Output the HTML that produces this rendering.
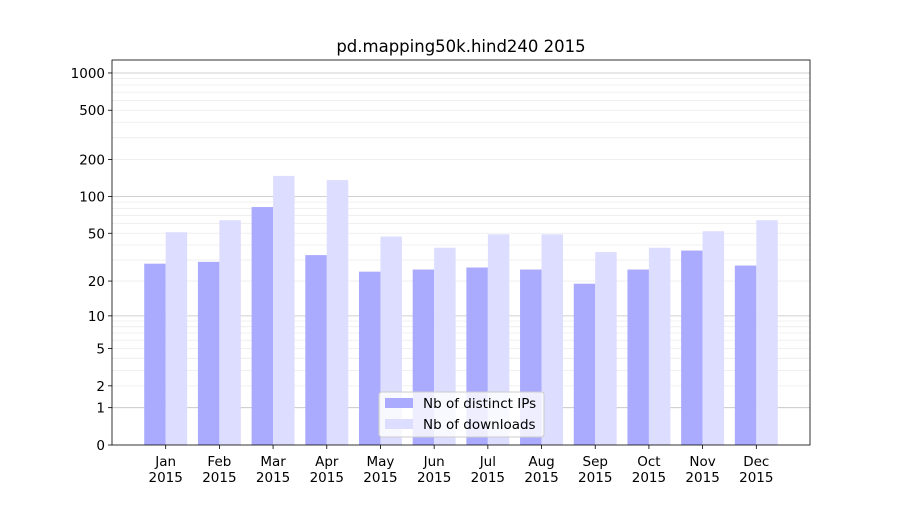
<!DOCTYPE html>
<html><head><meta charset="utf-8"><style>
body{margin:0;background:#fff;font-family:"Liberation Sans","DejaVu Sans",sans-serif;}
svg text{font-family:"DejaVu Sans","Liberation Sans",sans-serif;}
</style></head><body>
<svg id="chart" width="900" height="500" xmlns="http://www.w3.org/2000/svg">
<rect width="900" height="500" fill="#fff"/>
<g id="grid"></g><g id="bars"></g><g id="axes"></g>
</svg>
<script>
const months = ["Jan","Feb","Mar","Apr","May","Jun","Jul","Aug","Sep","Oct","Nov","Dec"];
const years = ["2015","2015","2015","2015","2015","2015","2015","2015","2015","2015","2015","2015"];
const ips = [28,29,82,33,24,25,26,25,19,25,36,27];
const downloads = [51,64,147,136,47,38,49,49,35,38,52,64];
const yTicks = [0,1,2,5,10,20,50,100,200,500,1000];
const majorGrid = [1,10,100,1000];

const L=112,R=810,T=60,B=445;
const xMin=-1.0,xMax=12.0,yMaxU=3.105;
const xs=i=>L+(i-xMin)/(xMax-xMin)*(R-L);
const ys=v=>B-Math.log10(v+1)/yMaxU*(B-T);
const NS="http://www.w3.org/2000/svg";
function mk(parent,tag,attrs){const e=document.createElementNS(NS,tag);for(const k in attrs)e.setAttribute(k,attrs[k]);parent.appendChild(e);return e;}
const grid=document.getElementById('grid'),bars=document.getElementById('bars'),axes=document.getElementById('axes');
// minor grid
[1,10,100,1000].forEach(d=>{for(let m=2;m<=9;m++){const v=d*m;const y=ys(v);if(y<T)continue;
 const l=mk(grid,'line',{x1:L,x2:R,y1:y,y2:y,stroke:'#ececec','stroke-width':0.8});
 
 }});
majorGrid.forEach(v=>{const y=ys(v);
 const l=mk(grid,'line',{x1:L,x2:R,y1:y,y2:y,stroke:'#c0c0c0','stroke-width':0.8});
 
 });
const bw=0.4*(xs(1)-xs(0));
months.forEach((m,i)=>{
 const c=xs(i);
 const b1=mk(bars,'rect',{x:c-bw,y:ys(ips[i]),width:bw,height:B-ys(ips[i]),fill:'#aaaaff'});
 
 
 const b2=mk(bars,'rect',{x:c,y:ys(downloads[i]),width:bw,height:B-ys(downloads[i]),fill:'#ddddff'});
 
 
 mk(axes,'line',{x1:c,x2:c,y1:B,y2:B+4,stroke:'#000','stroke-width':0.8});
 const t=mk(axes,'text',{x:c,y:B+21,'font-size':13.5,'text-anchor':'middle'});t.textContent=m;
 
 
 const t2=mk(axes,'text',{x:c,y:B+37,'font-size':13.5,'text-anchor':'middle'});t2.textContent=years[i];
 
 
});
yTicks.forEach(v=>{const y=ys(v);
 mk(axes,'line',{x1:L-4,x2:L,y1:y,y2:y,stroke:'#000','stroke-width':0.8});
 const t=mk(axes,'text',{x:L-7,y:y+5,'font-size':13.5,'text-anchor':'end'});t.textContent=v;
 
 });
const fr=mk(axes,'rect',{x:L,y:T,width:R-L,height:B-T,fill:'none',stroke:'#000','stroke-width':0.8});


const ti=mk(axes,'text',{x:(L+R)/2,y:52,'font-size':16.5,'text-anchor':'middle'});ti.textContent='pd.mapping50k.hind240 2015';


// legend
const lg=mk(axes,'g',{});


mk(lg,'rect',{x:379,y:392,width:165,height:45,rx:3,fill:'#fff','fill-opacity':0.8,stroke:'#ccc'});
mk(lg,'rect',{x:385,y:398,width:28,height:10,fill:'#aaaaff'});
const l1=mk(lg,'text',{x:423,y:408,'font-size':13.5});l1.textContent='Nb of distinct IPs';


mk(lg,'rect',{x:385,y:419,width:28,height:10,fill:'#ddddff'});
const l2=mk(lg,'text',{x:423,y:429,'font-size':13.5});l2.textContent='Nb of downloads';


</script>
</body></html>
